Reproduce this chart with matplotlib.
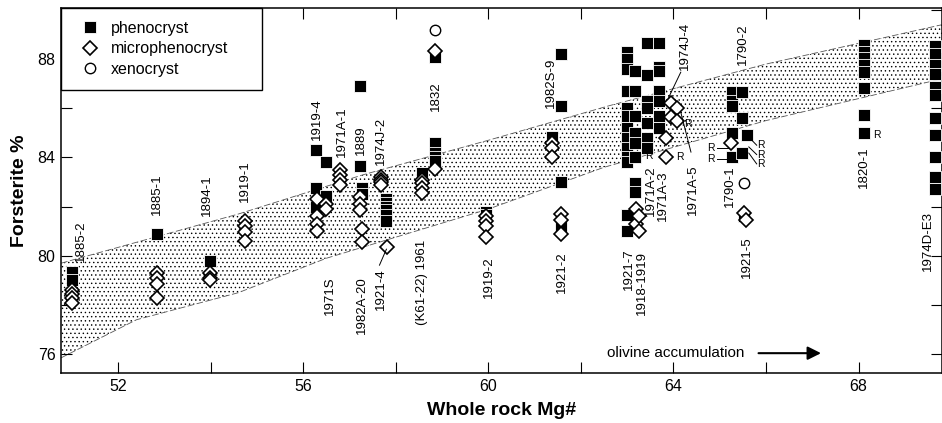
import matplotlib
matplotlib.use('Agg')
from matplotlib import pyplot as plt
from matplotlib.ticker import MultipleLocator, FuncFormatter

plt.rcParams['font.family'] = ['Liberation Sans', 'DejaVu Sans']

# phenocrysts: (whole rock Mg#, [olivine Fo ...])
pheno = [
    (51.01, [79.35, 79.0]),                                   # 1885-2
    (52.84, [80.9]),                                          # 1885-1
    (53.98, [79.8]),                                          # 1894-1
    (56.27, [84.3, 82.75, 82.0]),                             # 1919-4 / 1971S
    (56.50, [83.8, 82.45]),
    (57.22, [86.9, 83.65]),                                   # 1889
    (57.28, [82.75, 82.5]),                                   # 1982A-20
    (57.80, [82.3, 82.15, 82.0, 81.85, 81.65, 81.4]),         # 1921-4
    (58.56, [83.35]),                                         # (K61-22) 1961
    (58.84, [88.1, 84.6, 84.2, 84.0, 83.85]),                 # 1832
    (59.96, [81.8, 81.65]),                                   # 1919-2
    (61.38, [84.85]),                                         # 1982S-9
    (61.57, [88.2, 86.1, 83.0, 81.2]),                        # 1982S-9 / 1921-2
    (63.00, [88.3, 88.0, 87.6, 86.7, 86.0, 85.7, 85.2, 84.8,
             84.4, 84.0, 83.8, 81.65, 81.0]),                 # 1971A / 1921-7
    (63.17, [87.5, 86.7, 85.7, 85.0, 84.6, 84.0, 82.95, 82.6]),
    (63.43, [88.65, 87.35, 86.3, 86.0, 85.4, 84.8, 84.4]),
    (63.69, [88.65, 87.7, 87.5, 86.7, 86.3, 85.7, 85.2]),
    (65.26, [86.65, 86.3, 86.1, 85.0, 84.0]),                 # 1790
    (65.48, [86.65, 85.6, 84.2]),
    (65.59, [84.9]),
    (65.52, [81.6]),                                          # 1921-5
    (68.11, [88.57, 88.3, 88.04, 87.76, 87.48, 86.82, 85.72, 84.99]),  # 1820-1
    (69.66, [88.55, 88.2, 87.75, 87.4, 86.85, 86.55, 85.6, 84.9,
             84.0, 83.2, 82.7]),                              # 1974D-E3
]

# microphenocrysts
micro = [
    (51.01, [78.6, 78.45, 78.3, 78.1]),
    (52.84, [79.3, 79.1, 78.85, 78.3]),
    (53.98, [79.3, 79.1, 79.0]),
    (54.74, [81.4, 81.2, 80.95, 80.6]),
    (56.29, [82.3, 81.6, 81.3, 81.0]),
    (56.50, [82.1, 81.9]),
    (56.79, [83.5, 83.3, 83.1, 82.9]),
    (57.22, [82.4, 82.1, 81.85]),
    (57.28, [81.1, 80.55]),
    (57.69, [83.2, 83.1, 83.0, 82.9]),
    (57.82, [80.35]),
    (58.56, [83.1, 82.95, 82.75, 82.55]),
    (58.84, [88.35, 83.55]),
    (59.96, [81.6, 81.4, 81.2, 80.75]),
    (61.38, [84.6, 84.4, 84.0]),
    (61.57, [81.7, 81.45, 80.9]),
    (63.19, [81.9, 81.3]),
    (63.25, [81.6, 81.0]),
    (63.95, [86.2, 85.65]),
    (64.08, [86.0, 85.5]),
    (63.85, [84.8, 84.0]),
    (65.24, [84.6]),
    (65.52, [81.75]),
    (65.56, [81.45]),
]

# xenocrysts
xeno_mg = [58.84, 65.52]
xeno_fo = [89.2, 82.95]

# equilibrium band edges
band_upper_mg = [50.77, 54.6, 57.3, 60.0, 62.6, 66.0, 69.8]
band_upper_fo = [79.7, 81.7, 83.3, 84.7, 86.1, 87.8, 89.4]
band_lower_mg = [50.77, 52.4, 54.6, 56.5, 60.0, 62.5, 66.0, 69.8]
band_lower_fo = [75.85, 77.4, 78.5, 79.9, 81.9, 83.6, 85.5, 87.2]

# sample labels: (text, Mg#, Fo at start of text)
sample_labels = [
    ('1885-2', 51.2, 79.75), ('1885-1', 52.84, 81.65), ('1894-1', 53.92, 81.6),
    ('1919-1', 54.74, 82.2), ('1971S', 56.57, 77.6), ('1919-4', 56.31, 84.7),
    ('1971A-1', 56.83, 84.0), ('1889', 57.26, 84.1), ('1974J-2', 57.69, 83.7),
    ('1982A-20', 57.28, 76.8), ('1921-4', 57.69, 77.8), ('(K61-22) 1961', 58.56, 77.2),
    ('1832', 58.88, 85.9), ('1919-2', 60.02, 78.3), ('1982S-9', 61.36, 86.0),
    ('1921-2', 61.6, 78.5), ('1921-7', 63.04, 78.6), ('1918-1919', 63.32, 77.6),
    ('1971A-2', 63.51, 81.6), ('1971A-3', 63.77, 81.4), ('1971A-5', 64.42, 81.65),
    ('1974J-4', 64.25, 87.55), ('1790-2', 65.5, 87.75), ('1790-1', 65.22, 82.0),
    ('1921-5', 65.59, 79.1), ('1820-1', 68.11, 82.75), ('1974D-E3', 69.51, 79.4),
]

# "R" marks
r_mg = [63.47, 64.31, 64.14, 64.81, 64.81, 65.89, 65.89, 65.89, 68.39]
r_fo = [84.05, 85.35, 84.0, 84.4, 83.95, 84.5, 84.12, 83.74, 84.9]

# leader lines ((mg0, mg1), (fo0, fo1))
leaders = [
    ((57.65, 57.8), (79.62, 80.27)),
    ((64.16, 63.9), (87.47, 86.45)),
    ((64.16, 64.38), (85.84, 84.22)),
    ((64.94, 65.18), (84.4, 84.4)),
    ((64.94, 65.18), (83.95, 83.95)),
    ((65.63, 65.8), (84.83, 84.5)),
    ((65.63, 65.8), (84.43, 84.12)),
    ((65.63, 65.8), (84.18, 83.74)),
]


def flatten(groups):
    xs, ys = [], []
    for mg, fos in groups:
        for fo in fos:
            xs.append(mg)
            ys.append(fo)
    return xs, ys


fig = plt.figure(figsize=(9.42, 4.23), dpi=100)
ax = fig.add_axes([0.0648, 0.118, 0.935, 0.863])

# stippled band
poly_x = band_upper_mg + band_lower_mg[::-1]
poly_y = band_upper_fo + band_lower_fo[::-1]
plt.rcParams['hatch.linewidth'] = 0.5
ax.fill(poly_x, poly_y, facecolor='none', edgecolor='black', hatch='....',
        linewidth=0, zorder=1)
ax.plot(band_upper_mg, band_upper_fo, color='0.35', lw=0.6, ls=(0, (8, 3)), zorder=1)
ax.plot(band_lower_mg, band_lower_fo, color='0.35', lw=0.6, ls=(0, (8, 3)), zorder=1)

px, py = flatten(pheno)
mx, my = flatten(micro)
h1, = ax.plot(px, py, 's', ms=8.5, mfc='black', mec='white', mew=0.6,
              ls='none', zorder=3, label='phenocryst')
h2, = ax.plot(mx, my, 'D', ms=7, mfc='white', mec='black', mew=1.2,
              ls='none', zorder=4, label='microphenocryst')
h3, = ax.plot(xeno_mg, xeno_fo, 'o', ms=7.5, mfc='white', mec='black', mew=1.0,
              ls='none', zorder=5, label='xenocryst')

for text, mg, fo in sample_labels:
    ax.text(mg, fo, text, rotation=90, ha='center', va='bottom', fontsize=9.5, zorder=6)

for mg, fo in zip(r_mg, r_fo):
    ax.text(mg, fo, 'R', ha='center', va='center', fontsize=7.5, zorder=6)

for xs, ys in leaders:
    ax.plot(xs, ys, color='black', lw=0.7, zorder=6)

ax.text(62.57, 76.04, 'olivine accumulation', ha='left', va='center', fontsize=11)
ax.annotate('', xy=(67.25, 76.04), xytext=(65.78, 76.04),
            arrowprops=dict(arrowstyle='-|>', color='black', lw=1.5, mutation_scale=20))

ax.set_xlim(50.77, 69.8)
ax.set_ylim(75.23, 90.08)
ax.xaxis.set_major_locator(MultipleLocator(4))
ax.xaxis.set_minor_locator(MultipleLocator(2))
ax.yaxis.set_major_locator(MultipleLocator(4))
ax.yaxis.set_minor_locator(MultipleLocator(2))
ax.xaxis.set_major_formatter(FuncFormatter(lambda v, p: '%d' % v))
ax.yaxis.set_major_formatter(FuncFormatter(lambda v, p: '%d' % v))
ax.tick_params(which='both', direction='in', top=True, right=True,
               length=8, width=0.8, labelsize=11.5, pad=4)
for s in ax.spines.values():
    s.set_linewidth(1.1)

ax.set_xlabel('Whole rock Mg#', fontsize=14, fontweight='bold', labelpad=6)
ax.set_ylabel('Forsterite %', fontsize=14, fontweight='bold', labelpad=7)

leg = ax.legend(handles=[h1, h2, h3], loc='upper left', mode='expand',
                bbox_to_anchor=(0, 0.77, 0.228, 0.23), borderaxespad=0,
                fancybox=False, edgecolor='black', framealpha=1, fontsize=11.5,
                numpoints=1, borderpad=0.8, handlelength=2.0, handletextpad=0.3,
                labelspacing=0.35)
leg.get_frame().set_linewidth(1.0)
leg.set_zorder(10)

fig.savefig('out.png', dpi=100)
